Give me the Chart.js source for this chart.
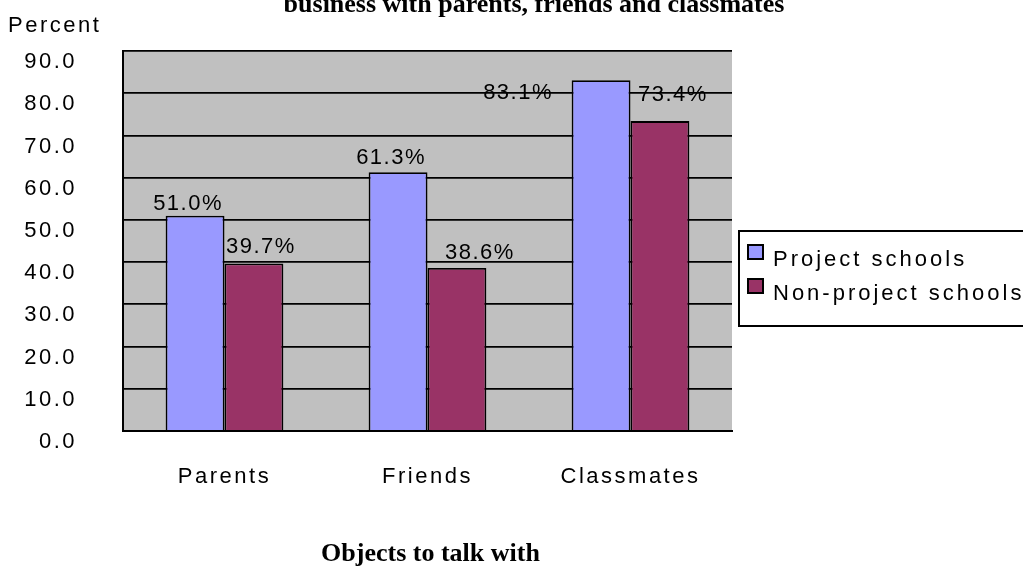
<!DOCTYPE html>
<html>
<head>
<meta charset="utf-8">
<title>Objects to talk with</title>
<script src="https://cdn.jsdelivr.net/npm/chart.js@4.4.1/dist/chart.umd.min.js"></script>
<style>
  html, body { margin: 0; padding: 0; background: #fff; }
  #wrap { width: 1023px; height: 566px; }
</style>
</head>
<body>
<div id="wrap"><canvas id="talkChart" width="1023" height="566"></canvas></div>
<script>
// share of students (percent) who talk about business with each group
const categories = ["Parents", "Friends", "Classmates"];
const projectSchools = [51.0, 61.3, 83.1];
const nonProjectSchools = [39.7, 38.6, 73.4];
const seriesNames = ["Project schools", "Non-project schools"];
const yTicks = [0, 10, 20, 30, 40, 50, 60, 70, 80, 90];

const SANS = "'Liberation Sans', Arial, sans-serif";
const SERIF = "'Liberation Serif', 'Times New Roman', serif";
const SPACING = "2.5px";

// grey plot background; also widens letter spacing for the axis labels
const plotBackground = {
    id: "plotBackground",
    beforeDraw(chart) {
        const a = chart.chartArea;
        const ctx = chart.ctx;
        ctx.letterSpacing = SPACING;
        ctx.save();
        ctx.fillStyle = "#c0c0c0";
        ctx.fillRect(a.left, a.top, a.right - a.left, a.bottom - a.top);
        ctx.restore();
    }
};

// "51.0%" style labels over the bars
const valueLabels = {
    id: "valueLabels",
    afterDatasetsDraw(chart, args, opts) {
        const ctx = chart.ctx;
        ctx.save();
        ctx.letterSpacing = "1.5px";
        ctx.font = "22px " + SANS;
        ctx.fillStyle = "#000";
        ctx.textAlign = "center";
        ctx.textBaseline = "middle";
        chart.data.datasets.forEach((ds, i) => {
            chart.getDatasetMeta(i).data.forEach((bar, j) => {
                const n = opts.nudge[i][j];
                ctx.fillText(ds.data[j].toFixed(1) + "%", bar.x + n[0], bar.y + n[1]);
            });
        });
        ctx.restore();
    }
};

// heading, unit label, axis title and boxed legend
const decorations = {
    id: "decorations",
    afterDraw(chart) {
        const ctx = chart.ctx;
        const a = chart.chartArea;
        ctx.save();
        ctx.fillStyle = "#000";

        ctx.letterSpacing = "0px";
        ctx.font = "bold 26px " + SERIF;
        ctx.textAlign = "center";
        ctx.textBaseline = "alphabetic";
        ctx.fillText("business with parents, friends and classmates", 534, 12);
        ctx.textBaseline = "middle";
        ctx.fillText("Objects to talk with", (a.left + a.right) / 2 + 3, 554);

        ctx.letterSpacing = SPACING;
        ctx.font = "22px " + SANS;
        ctx.textAlign = "left";
        ctx.fillText("Percent", 8, 26);

        // legend frame runs off the right edge
        ctx.lineWidth = 2;
        ctx.strokeStyle = "#000";
        ctx.fillStyle = "#fff";
        ctx.fillRect(739, 231, 300, 95);
        ctx.strokeRect(739, 231, 300, 95);

        ctx.letterSpacing = "3px";
        chart.data.datasets.forEach((ds, i) => {
            const y = 245 + i * 34;
            ctx.fillStyle = ds.backgroundColor;
            ctx.fillRect(748, y, 15, 14);
            ctx.strokeRect(748, y, 15, 14);
            ctx.fillStyle = "#000";
            ctx.fillText(ds.label, 773, y + 15);
        });
        ctx.restore();
    }
};

const chart = new Chart(document.getElementById("talkChart"), {
    type: "bar",
    data: {
        labels: categories,
        datasets: [
            {
                label: seriesNames[0],
                data: projectSchools,
                backgroundColor: "#9999ff",
                borderColor: "#000",
                borderWidth: 1.8
            },
            {
                label: seriesNames[1],
                data: nonProjectSchools,
                backgroundColor: "#993366",
                borderColor: "#000",
                borderWidth: 1.8
            }
        ]
    },
    options: {
        responsive: false,
        animation: false,
        events: [],
        layout: { padding: { left: 0, top: 51, right: 291, bottom: 0 } },
        datasets: {
            bar: { categoryPercentage: 0.58, barPercentage: 1.0 }
        },
        font: { family: SANS, size: 22 },
        color: "#000",
        plugins: {
            legend: { display: false },
            tooltip: { enabled: false },
            valueLabels: {
                nudge: [
                    [[-7, -12], [-7, -14], [-83, 13]],
                    [[7, -16], [23, -15], [13, -26]]
                ]
            }
        },
        scales: {
            x: {
                afterFit: s => { s.height = 135; },
                grid: { display: false },
                border: { display: true, color: "#000", width: 2 },
                ticks: {
                    color: "#000",
                    padding: 25,
                    font: { family: SANS, size: 22 }
                }
            },
            y: {
                min: 0,
                max: 90,
                afterFit: s => {
                    s.width = 123;
                    s.paddingTop = 0;
                    s.paddingBottom = 0;
                },
                afterBuildTicks: s => { s.ticks = yTicks.map(v => ({ value: v })); },
                grid: { color: "#000", lineWidth: 1.8, drawTicks: false },
                border: { display: true, color: "#000", width: 2 },
                ticks: {
                    color: "#000",
                    padding: 46,
                    labelOffset: 11,
                    font: { family: SANS, size: 22 },
                    callback: v => Number(v).toFixed(1)
                }
            }
        }
    },
    plugins: [plotBackground, valueLabels, decorations]
});
</script>
</body>
</html>
